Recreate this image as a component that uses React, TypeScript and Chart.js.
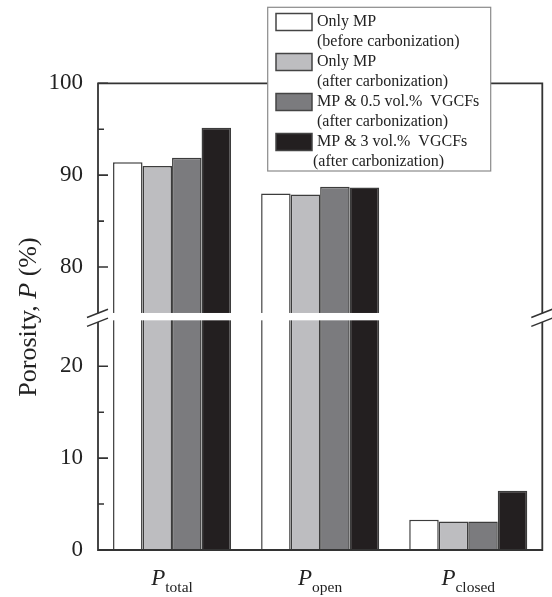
import React, { useEffect, useRef } from 'react';
import { Chart, registerables } from 'chart.js';

Chart.register(...registerables);

// ---- data ----
const categorySymbol = 'P';
const categories = ['total', 'open', 'closed'];
const seriesLabels = [
  ['Only MP', '(before carbonization)'],
  ['Only MP', '(after carbonization)'],
  ['MP & 0.5 vol.%  VGCFs', '(after carbonization)'],
  ['MP & 3 vol.%  VGCFs', '(after carbonization)'],
];
const onlyMPBefore = [91.4, 88.0, 3.3];
const onlyMPAfter = [91.0, 87.9, 3.1];
const mp05VGCF = [91.9, 88.75, 3.1];
const mp3VGCF = [95.15, 88.65, 6.45];
const majorTicks = [0, 10, 20, 80, 90, 100];
const minorTicks = [5, 15, 85, 95];
const breakLow = 25;
const breakHigh = 75;
const yTitleParts = ['Porosity, ', 'P', ' (%)'];

// ---- styles ----
const seriesColors = ['#ffffff', '#bdbdc0', '#7b7b7e', '#231f20'];
const GAP = 0.8;
const FONT = '"Liberation Serif", "DejaVu Serif", serif';

const toAxis = (v: number) => (v <= breakLow ? v : v - (breakHigh - breakLow) + GAP);
const fromAxis = (d: number) => (d <= breakLow + GAP / 2 ? d : d + (breakHigh - breakLow) - GAP);

const customPlugin = {
  id: 'customDraw',
  afterDatasetsDraw(chart: any) {
    const { ctx, chartArea: a, scales } = chart;
    const y = scales.y;
    const x = scales.x;
    const yLo = y.getPixelForValue(toAxis(breakLow));
    const yHi = y.getPixelForValue(toAxis(breakHigh));
    ctx.save();
    // white band through bars
    ctx.fillStyle = '#ffffff';
    ctx.fillRect(a.left - 1, yHi, a.right - a.left + 2, yLo - yHi);

    // frame
    ctx.strokeStyle = '#333333';
    ctx.lineWidth = 1.8;
    const upEnd = yHi + 0.3;
    const loStart = yLo + 1.8;
    ctx.beginPath();
    ctx.moveTo(a.left, a.top);
    ctx.lineTo(a.left, upEnd);
    ctx.moveTo(a.left, loStart);
    ctx.lineTo(a.left, a.bottom);
    ctx.moveTo(a.right, a.top);
    ctx.lineTo(a.right, upEnd);
    ctx.moveTo(a.right, loStart);
    ctx.lineTo(a.right, a.bottom);
    ctx.moveTo(a.left - 0.9, a.top);
    ctx.lineTo(a.right + 0.9, a.top);
    ctx.moveTo(a.left - 0.9, a.bottom);
    ctx.lineTo(a.right + 0.9, a.bottom);
    ctx.stroke();

    // break marks
    ctx.lineWidth = 1.5;
    ctx.beginPath();
    for (const x0 of [a.left, a.right]) {
      for (const yc of [upEnd, loStart]) {
        ctx.moveTo(x0 - 11, yc + 4.2);
        ctx.lineTo(x0 + 10, yc - 4);
      }
    }
    ctx.stroke();

    // inward ticks
    ctx.lineWidth = 1.6;
    ctx.beginPath();
    for (const v of majorTicks) {
      const py = y.getPixelForValue(toAxis(v));
      ctx.moveTo(a.left, py);
      ctx.lineTo(a.left + 10, py);
    }
    for (const v of minorTicks) {
      const py = y.getPixelForValue(toAxis(v));
      ctx.moveTo(a.left, py);
      ctx.lineTo(a.left + 6, py);
    }
    ctx.stroke();

    // x category labels: italic P with subscript
    ctx.fillStyle = '#222222';
    ctx.textBaseline = 'alphabetic';
    ctx.textAlign = 'left';
    categories.forEach((sub, i) => {
      const cx = x.getPixelForValue(i);
      ctx.font = `italic 23px ${FONT}`;
      const wP = ctx.measureText(categorySymbol).width;
      ctx.font = `15.5px ${FONT}`;
      const wS = ctx.measureText(sub).width;
      const start = cx - (wP + wS) / 2;
      ctx.font = `italic 23px ${FONT}`;
      ctx.fillText(categorySymbol, start, a.bottom + 35);
      ctx.font = `15.5px ${FONT}`;
      ctx.fillText(sub, start + wP, a.bottom + 42);
    });

    // y title
    ctx.save();
    ctx.translate(29, 317);
    ctx.rotate(-Math.PI / 2);
    ctx.textBaseline = 'middle';
    const fonts = [`26px ${FONT}`, `italic 26px ${FONT}`, `26px ${FONT}`];
    let total = 0;
    const widths = yTitleParts.map((t, i) => {
      ctx.font = fonts[i];
      const w = ctx.measureText(t).width;
      total += w;
      return w;
    });
    let px = -total / 2;
    yTitleParts.forEach((t, i) => {
      ctx.font = fonts[i];
      ctx.fillText(t, px, 0);
      px += widths[i];
    });
    ctx.restore();

    ctx.restore();
  },
  afterDraw(chart: any) {
    const { ctx } = chart;
    ctx.save();
    // legend box
    const bx = 267.7, by = 7.3, bw = 223, bh = 163.7;
    ctx.fillStyle = '#ffffff';
    ctx.fillRect(bx, by, bw, bh);
    ctx.strokeStyle = '#8a8a8a';
    ctx.lineWidth = 1.2;
    ctx.strokeRect(bx, by, bw, bh);
    ctx.font = `16px ${FONT}`;
    ctx.textBaseline = 'middle';
    ctx.textAlign = 'left';
    seriesLabels.forEach((lines, i) => {
      const cy = 22 + i * 40;
      ctx.fillStyle = seriesColors[i];
      ctx.fillRect(276, cy - 8.5, 36, 17);
      ctx.strokeStyle = '#444444';
      ctx.lineWidth = 1.5;
      ctx.strokeRect(276, cy - 8.5, 36, 17);
      ctx.fillStyle = '#222222';
      lines.forEach((ln, j) => {
        const tx = i === seriesLabels.length - 1 && j === 1 ? 313 : 317;
        ctx.fillText(ln, tx, cy + j * 20);
      });
    });
    ctx.restore();
  },
};

export default function App() {
  const ref = useRef<HTMLCanvasElement | null>(null);
  useEffect(() => {
    document.body.style.margin = '0';
    if (!ref.current) return;
    const series = [onlyMPBefore, onlyMPAfter, mp05VGCF, mp3VGCF];
    const chart = new Chart(ref.current, {
      type: 'bar',
      data: {
        labels: categories.map((c) => categorySymbol + c),
        datasets: series.map((s, i) => ({
          label: seriesLabels[i].join(' '),
          data: s.map(toAxis),
          backgroundColor: seriesColors[i],
          borderColor: '#3c3c3c',
          borderWidth: 1.5,
          categoryPercentage: 0.797,
          barPercentage: 1,
        })),
      },
      options: {
        animation: false,
        responsive: true,
        maintainAspectRatio: false,
        layout: { padding: { left: 0, right: 9.7, top: 83.3, bottom: 47 } },
        plugins: { legend: { display: false }, tooltip: { enabled: false }, title: { display: false } },
        scales: {
          x: { display: false, offset: true },
          y: {
            min: 0,
            max: toAxis(100),
            afterFit: (s: any) => {
              s.width = 98;
            },
            afterBuildTicks: (s: any) => {
              s.ticks = majorTicks.map((v) => ({ value: toAxis(v) }));
            },
            grid: { display: false, drawTicks: false },
            border: { display: false },
            ticks: {
              padding: 15,
              color: '#222222',
              font: { family: FONT, size: 23 },
              callback: (val: any) => String(Math.round(fromAxis(Number(val)))),
            },
          },
        },
      },
      plugins: [customPlugin],
    });
    return () => chart.destroy();
  }, []);
  return (
    <div style={{ position: 'relative', width: 552, height: 597 }}>
      <canvas ref={ref} />
    </div>
  );
}
